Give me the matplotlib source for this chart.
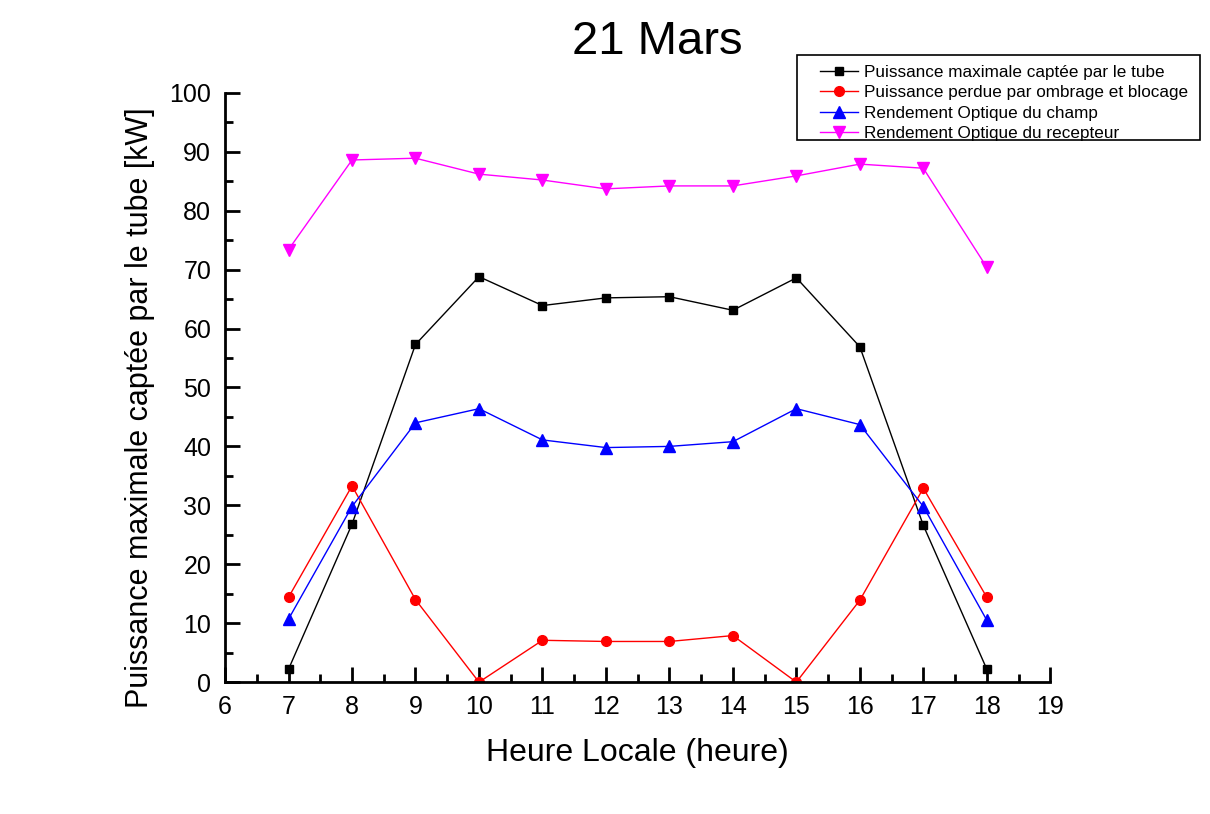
import matplotlib.pyplot as plt
from matplotlib.patches import Rectangle
from matplotlib.ticker import MultipleLocator

plt.rcParams['font.family'] = ['Liberation Sans', 'DejaVu Sans']

# Heure locale
heures = [7, 8, 9, 10, 11, 12, 13, 14, 15, 16, 17, 18]

p_max = [2.2, 26.8, 57.3, 68.8, 63.9, 65.2, 65.4, 63.1, 68.6, 56.9, 26.6, 2.2]
p_perdue = [14.4, 33.3, 14.0, 0.0, 7.1, 6.9, 6.9, 7.9, 0.0, 13.9, 32.9, 14.4]
rend_champ = [10.7, 29.8, 44.0, 46.4, 41.1, 39.8, 40.0, 40.8, 46.4, 43.7, 29.8, 10.5]
rend_recepteur = [73.4, 88.6, 88.9, 86.2, 85.2, 83.7, 84.2, 84.2, 85.9, 87.9, 87.2, 70.4]

labels = ['Puissance maximale captée par le tube',
          'Puissance perdue par ombrage et blocage',
          'Rendement Optique du champ',
          'Rendement Optique du recepteur']

fig = plt.figure(figsize=(12.1, 8.14), dpi=100)
ax = fig.add_axes([0.186, 0.162, 0.682, 0.724])

ax.plot(heures, p_max, color='black', marker='s', ms=6, lw=1, label=labels[0])
ax.plot(heures, p_perdue, color='red', marker='o', ms=7, lw=1, label=labels[1])
ax.plot(heures, rend_champ, color='blue', marker='^', ms=8, lw=1, label=labels[2])
ax.plot(heures, rend_recepteur, color='magenta', marker='v', ms=8, lw=1, label=labels[3])

ax.set_xlim(6, 19)
ax.set_ylim(0, 100)
ax.xaxis.set_major_locator(MultipleLocator(1))
ax.xaxis.set_minor_locator(MultipleLocator(0.5))
ax.yaxis.set_major_locator(MultipleLocator(10))
ax.yaxis.set_minor_locator(MultipleLocator(5))

for s in ['top', 'right']:
    ax.spines[s].set_visible(False)
for s in ['left', 'bottom']:
    ax.spines[s].set_linewidth(2)

ax.tick_params(which='major', direction='in', length=11, width=2, labelsize=18)
ax.tick_params(which='minor', direction='in', length=6, width=2)
ax.tick_params(axis='x', which='major', pad=9)
ax.tick_params(axis='y', which='major', pad=10)

ax.set_xlabel('Heure Locale (heure)', fontsize=23, labelpad=14)
fig.text(0.1157, 1 - 407.5 / 814, 'Puissance maximale captée par le tube [kW]',
         fontsize=22, rotation=90, ha='center', va='center')
fig.text(0.543, 0.948, '21 Mars', fontsize=34, ha='center', va='center')

# legend text without its own frame, box drawn separately (wider left margin)
leg = fig.legend(loc='upper left', bbox_to_anchor=(0.6735, 0.9267), fontsize=12.3,
                 frameon=False, handlelength=2.25, handletextpad=0.35,
                 labelspacing=0.32, borderpad=0.3, borderaxespad=0)
fig.add_artist(Rectangle((797 / 1210, 1 - 140 / 814), 403 / 1210, 85 / 814,
                         transform=fig.transFigure, fill=False,
                         edgecolor='black', linewidth=1.2))

fig.savefig('out.png', dpi=100)
